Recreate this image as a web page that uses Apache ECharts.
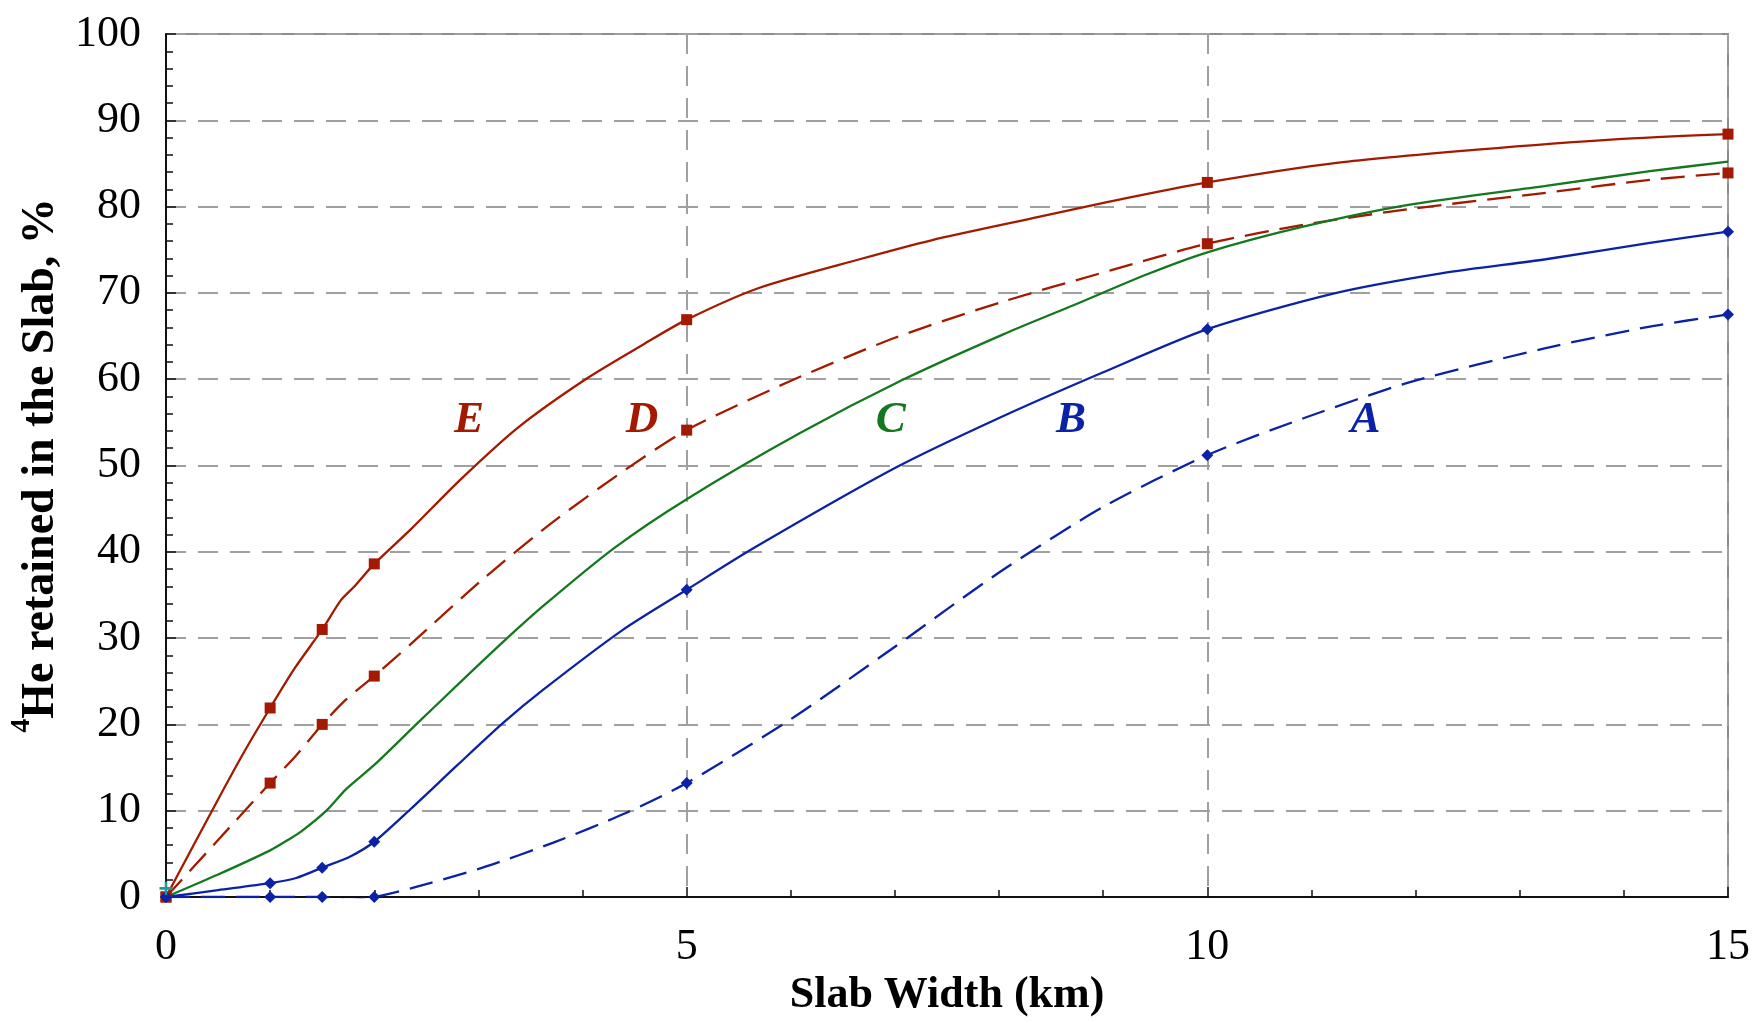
<!DOCTYPE html>
<html>
<head>
<meta charset="utf-8">
<title>4He retained in the Slab</title>
<script src="https://cdn.jsdelivr.net/npm/echarts@6/dist/echarts.min.js"></script>
<style>
  html, body { margin: 0; padding: 0; background: #ffffff; }
  #chart { width: 1754px; height: 1023px; }
</style>
</head>
<body>
<div id="chart"></div>
<script>
// Slab widths (km) where the computed points are marked
const markX = [0, 1, 1.5, 2, 5, 10, 15];

// Marked values (%) for curves E, D, B, A
const markE = [0, 21.9, 31.0, 38.6, 66.9, 82.8, 88.4];
const markD = [0, 13.2, 20.0, 25.6, 54.1, 75.7, 83.9];
const markB = [0, 1.6, 3.4, 6.4, 35.6, 65.8, 77.1];
const markA = [0, 0, 0, 0, 13.2, 51.2, 67.5];

// Curve traces (x in km, y in %)
const curveEx = [0, 0.5, 0.75, 1, 1.23, 1.5, 1.68, 1.81, 2, 2.35, 2.83, 3.38, 4.03, 4.58, 5, 5.7, 6.66, 7.35, 8.38, 9.07, 10, 11.26, 12.59, 13.91, 15];
const curveEy = [0, 11.3, 16.8, 21.9, 26.4, 31.0, 34.4, 36.0, 38.6, 42.6, 48.4, 54.4, 60.0, 64.0, 66.9, 70.6, 73.9, 76.1, 78.8, 80.6, 82.8, 85.1, 86.6, 87.8, 88.4];

const curveDx = [0, 0.5, 1, 1.25, 1.5, 1.73, 2, 2.35, 3.04, 3.72, 4.41, 5, 5.98, 7.0, 8.04, 9.07, 10, 10.93, 11.93, 13.25, 14.25, 15];
const curveDy = [0, 6.6, 13.2, 16.4, 20.0, 22.9, 25.6, 29.3, 36.8, 43.5, 49.5, 54.1, 59.7, 64.8, 69.0, 72.6, 75.7, 77.9, 79.7, 81.6, 83.1, 83.9];

const curveCx = [0, 0.5, 1, 1.17, 1.3, 1.54, 1.73, 2, 2.42, 2.87, 3.24, 3.62, 4.30, 5, 6.08, 7.07, 8.04, 8.72, 9.41, 10, 10.93, 11.93, 13.25, 14.25, 15];
const curveCy = [0, 2.6, 5.4, 6.6, 7.6, 10.0, 12.5, 15.3, 20.2, 25.4, 29.6, 33.7, 40.4, 46.1, 53.7, 59.9, 65.2, 68.6, 72.1, 74.7, 77.7, 80.2, 82.4, 84.1, 85.2];

const curveBx = [0, 0.5, 1, 1.25, 1.5, 1.77, 2, 2.35, 2.8, 3.24, 3.62, 4.38, 5, 5.64, 7.0, 8.0, 9.0, 10, 11.2, 12.26, 13.25, 14.25, 15];
const curveBy = [0, 0.8, 1.6, 2.2, 3.4, 4.7, 6.4, 10.2, 15.3, 20.2, 24.0, 30.9, 35.6, 40.4, 49.7, 55.5, 60.8, 65.8, 69.9, 72.3, 73.9, 75.8, 77.1];

const curveAx = [0, 1, 1.5, 1.75, 2, 2.35, 3.04, 3.72, 4.41, 5, 6.0, 7.0, 8.0, 9.0, 10, 10.93, 11.93, 13.25, 14.25, 15];
const curveAy = [0, 0, 0, -0.35, 0, 1.0, 3.4, 6.3, 9.7, 13.2, 20.6, 29.0, 37.6, 45.2, 51.2, 55.5, 59.6, 63.6, 66.1, 67.5];

// Extra point at the origin
const plusX = [0];
const plusY = [1.0];

// Curve names placed beside the curves
const curveNames = ['E', 'D', 'C', 'B', 'A'];
const curveNameX = [2.91, 4.57, 6.96, 8.69, 11.52];
const curveNameY = [55.2, 55.2, 55.2, 55.2, 55.2];

// Axis ticks
const xTicks = [0, 5, 10, 15];
const yTicks = [0, 10, 20, 30, 40, 50, 60, 70, 80, 90, 100];

const RED = '#a31a00';
const BLUE = '#0c22a6';
const GREEN = '#14781e';
const TEAL = '#1a9c9c';
const GRID = '#a0a0a0';
const FONT = '"Liberation Serif", "Times New Roman", serif';

const zip = (xs, ys) => xs.map((x, i) => [x, ys[i]]);
const nameColors = [RED, RED, GREEN, BLUE, BLUE];

const lineSeries = (name, xs, ys, color, dashed) => ({
  name: name,
  type: 'line',
  data: zip(xs, ys),
  smooth: 0.25,
  showSymbol: false,
  symbol: 'none',
  lineStyle: { color: color, width: 2.3, type: dashed ? [24, 11] : 'solid' },
  z: 3,
  silent: true
});

const markerSeries = (name, ys, color, symbol, size) => ({
  name: name + ' points',
  type: 'scatter',
  data: zip(markX, ys),
  symbol: symbol,
  symbolSize: size,
  itemStyle: { color: color, opacity: 1 },
  z: 4,
  silent: true
});

const chart = echarts.init(document.getElementById('chart'), null, { renderer: 'canvas' });

chart.setOption({
  animation: false,
  backgroundColor: '#ffffff',
  grid: {
    left: 166, right: 26, top: 34, bottom: 126,
    containLabel: false,
    outerBoundsMode: 'none',
    show: true, borderColor: '#8c8c8c', borderWidth: 2, backgroundColor: 'transparent'
  },
  xAxis: {
    type: 'value',
    min: xTicks[0], max: xTicks[xTicks.length - 1], interval: 5,
    name: 'Slab Width (km)',
    nameLocation: 'middle',
    nameGap: 77,
    nameTextStyle: { fontFamily: FONT, fontWeight: 'bold', fontSize: 44, color: '#000' },
    axisLine: { show: true, onZero: false, lineStyle: { color: '#111', width: 2 } },
    axisTick: { show: true, inside: true, length: 10, lineStyle: { color: '#111', width: 1.5 } },
    minorTick: { show: true, splitNumber: 5, length: 7, lineStyle: { color: '#111', width: 1.5 } },
    axisLabel: {
      fontFamily: FONT, fontSize: 44, color: '#000', margin: 28,
      formatter: v => (xTicks.includes(v) ? String(v) : '')
    },
    splitLine: { show: true, lineStyle: { color: GRID, width: 2, type: [20, 12] } }
  },
  yAxis: {
    type: 'value',
    min: yTicks[0], max: yTicks[yTicks.length - 1], interval: 10,
    name: '{sup|4}{main|He retained in the Slab, %}',
    nameLocation: 'middle',
    nameRotate: 90,
    nameGap: 80,
    nameTextStyle: {
      rich: {
        sup: { fontFamily: FONT, fontWeight: 'bold', fontSize: 28, lineHeight: 28, verticalAlign: 'top', color: '#000' },
        main: { fontFamily: FONT, fontWeight: 'bold', fontSize: 46, lineHeight: 56, verticalAlign: 'bottom', color: '#000' }
      }
    },
    axisLine: { show: true, onZero: false, lineStyle: { color: '#111', width: 2 } },
    axisTick: { show: true, inside: true, length: 10, lineStyle: { color: '#111', width: 1.5 } },
    minorTick: { show: true, splitNumber: 5, length: 7, lineStyle: { color: '#111', width: 1.5 } },
    axisLabel: {
      fontFamily: FONT, fontSize: 44, color: '#000', margin: 25,
      formatter: v => (yTicks.includes(v) ? String(v) : '')
    },
    splitLine: { show: true, lineStyle: { color: GRID, width: 2, type: [20, 12] } }
  },
  series: [
    lineSeries('E', curveEx, curveEy, RED, false),
    markerSeries('E', markE, RED, 'rect', 11),
    lineSeries('D', curveDx, curveDy, RED, true),
    markerSeries('D', markD, RED, 'rect', 11),
    lineSeries('C', curveCx, curveCy, GREEN, false),
    lineSeries('B', curveBx, curveBy, BLUE, false),
    markerSeries('B', markB, BLUE, 'diamond', 12),
    lineSeries('A', curveAx, curveAy, BLUE, true),
    markerSeries('A', markA, BLUE, 'diamond', 12),
    {
      name: 'origin',
      type: 'scatter',
      data: zip(plusX, plusY),
      symbol: 'path://M4,0 L6,0 L6,4 L10,4 L10,6 L6,6 L6,10 L4,10 L4,6 L0,6 L0,4 L4,4 Z',
      symbolSize: 13,
      itemStyle: { color: TEAL, opacity: 1 },
      z: 5,
      silent: true
    },
    {
      name: 'curve names',
      type: 'scatter',
      symbolSize: 1,
      itemStyle: { color: 'rgba(0,0,0,0)', opacity: 1 },
      z: 6,
      silent: true,
      data: curveNames.map((n, i) => ({
        value: [curveNameX[i], curveNameY[i]],
        name: n,
        label: { color: nameColors[i] }
      })),
      label: {
        show: true,
        position: 'inside',
        formatter: p => p.name,
        fontFamily: FONT,
        fontWeight: 'bold',
        fontStyle: 'italic',
        fontSize: 45
      }
    }
  ]
});
</script>
</body>
</html>
